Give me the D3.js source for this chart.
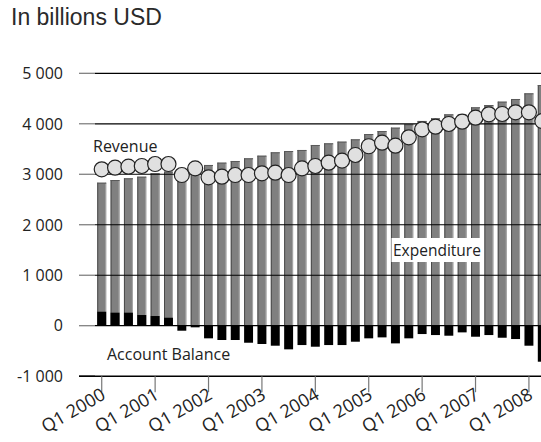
<!DOCTYPE html>
<html>
<head>
<meta charset="utf-8">
<script src="https://cdn.jsdelivr.net/npm/d3@7"></script>
<style>
  html, body { margin: 0; padding: 0; background: #fff; }
  svg { display: block; }
</style>
</head>
<body>
<script>
const quarters = [
  "Q1 2000","Q2 2000","Q3 2000","Q4 2000",
  "Q1 2001","Q2 2001","Q3 2001","Q4 2001",
  "Q1 2002","Q2 2002","Q3 2002","Q4 2002",
  "Q1 2003","Q2 2003","Q3 2003","Q4 2003",
  "Q1 2004","Q2 2004","Q3 2004","Q4 2004",
  "Q1 2005","Q2 2005","Q3 2005","Q4 2005",
  "Q1 2006","Q2 2006","Q3 2006","Q4 2006",
  "Q1 2007","Q2 2007","Q3 2007","Q4 2007",
  "Q1 2008","Q2 2008"
];
const expenditure = [
  2833, 2886, 2920, 2952, 3019, 3051, 3084, 3149,
  3184, 3230, 3263, 3316, 3368, 3435, 3460, 3481,
  3580, 3613, 3646, 3692, 3797, 3857, 3923, 3989,
  4056, 4108, 4187, 4180, 4326, 4372, 4438, 4491,
  4603, 4768
];
const revenue = [
  3098, 3130, 3150, 3164, 3203, 3203, 2985, 3117,
  2940, 2952, 2985, 2985, 3019, 3032, 2985, 3117,
  3164, 3230, 3270, 3382, 3555, 3626, 3566, 3732,
  3891, 3942, 3996, 4041, 4121, 4187, 4194, 4227,
  4227, 4055
];
const balance = [
  277, 258, 258, 212, 192, 158, -99, -32,
  -250, -283, -283, -337, -362, -396, -468, -383,
  -416, -383, -383, -317, -250, -231, -350, -250,
  -165, -185, -198, -132, -218, -185, -238, -264,
  -396, -713
];
const yTicks = [-1000, 0, 1000, 2000, 3000, 4000, 5000];
const xTickLabels = ["Q1 2000","Q1 2001","Q1 2002","Q1 2003","Q1 2004","Q1 2005","Q1 2006","Q1 2007","Q1 2008"];

const W = 541, H = 442;
const svg = d3.select("body").append("svg").attr("width", W).attr("height", H);

const x = d3.scaleBand().domain(quarters)
  .range([95.05, 95.05 + quarters.length * 13.35])
  .paddingInner(0.33).paddingOuter(0.165);
const y = d3.scaleLinear().domain([-1000, 5000]).range([376.2, 73.3]);

const labelFont = "'Open Sans', 'Noto Sans', sans-serif";
const fmt = v => (v < 0 ? "-" : "") + d3.format(",")(Math.abs(v)).replace(/,/g, " ");

// Title
svg.append("text").attr("x", 11).attr("y", 25)
  .attr("font-family", "'Liberation Sans', Arial, sans-serif")
  .attr("font-size", 23).attr("fill", "#2a2a2a").text("In billions USD");

// Y tick marks and labels
const yg = svg.append("g");
yg.selectAll("line.tk").data(yTicks).join("line")
  .attr("x1", 79).attr("x2", 95)
  .attr("y1", d => y(d)).attr("y2", d => y(d))
  .attr("stroke", d => d === -1000 ? "#000" : "#777").attr("stroke-width", 1.2);
yg.selectAll("text").data(yTicks).join("text")
  .attr("x", 63).attr("y", d => y(d)).attr("dy", "0.36em")
  .attr("text-anchor", "end").attr("font-family", labelFont)
  .attr("font-size", 16).attr("fill", "#222").text(d => fmt(d));

// Expenditure bars
const bars = svg.append("g");
bars.selectAll("rect.exp").data(quarters).join("rect")
  .attr("class", "exp")
  .attr("x", d => x(d)).attr("width", x.bandwidth())
  .attr("y", (d, i) => y(expenditure[i]))
  .attr("height", (d, i) => y(0) - y(expenditure[i]))
  .attr("fill", "#808080");
bars.selectAll("line.le").data(quarters).join("line")
  .attr("class", "le")
  .attr("x1", d => x(d) + 0.5).attr("x2", d => x(d) + 0.5)
  .attr("y1", (d, i) => y(expenditure[i])).attr("y2", y(0))
  .attr("stroke", "#4a4a4a").attr("stroke-width", 1);
bars.selectAll("line.re").data(quarters).join("line")
  .attr("class", "re")
  .attr("x1", d => x(d) + x.bandwidth() - 0.5).attr("x2", d => x(d) + x.bandwidth() - 0.5)
  .attr("y1", (d, i) => y(expenditure[i])).attr("y2", y(0))
  .attr("stroke", "#a8a8a8").attr("stroke-width", 1);
bars.selectAll("line.te").data(quarters).join("line")
  .attr("class", "te")
  .attr("x1", d => x(d)).attr("x2", d => x(d) + x.bandwidth())
  .attr("y1", (d, i) => y(expenditure[i]) + 0.5).attr("y2", (d, i) => y(expenditure[i]) + 0.5)
  .attr("stroke", "#5a5a5a").attr("stroke-width", 1);

// Balance bars
bars.selectAll("rect.bal").data(quarters).join("rect")
  .attr("class", "bal")
  .attr("x", d => x(d)).attr("width", x.bandwidth())
  .attr("y", (d, i) => y(Math.max(0, balance[i])))
  .attr("height", (d, i) => Math.abs(y(balance[i]) - y(0)))
  .attr("fill", "#000");

// Gridlines (drawn over bars)
svg.append("g").selectAll("line").data(yTicks.filter(d => d >= 0)).join("line")
  .attr("x1", 95).attr("x2", W)
  .attr("y1", d => y(d)).attr("y2", d => y(d))
  .attr("stroke", "#000").attr("stroke-width", 1.2);
// X axis line
svg.append("line").attr("x1", 79).attr("x2", W)
  .attr("y1", y(-1000)).attr("y2", y(-1000))
  .attr("stroke", "#000").attr("stroke-width", 1.4);

// X ticks and labels
const xg = svg.append("g");
xg.selectAll("line").data(xTickLabels).join("line")
  .attr("x1", d => x(d) + x.bandwidth() / 2).attr("x2", d => x(d) + x.bandwidth() / 2)
  .attr("y1", y(-1000)).attr("y2", y(-1000) + 16)
  .attr("stroke", "#777").attr("stroke-width", 1.2);
xg.selectAll("text").data(xTickLabels).join("text")
  .attr("transform", d => `translate(${x(d) + x.bandwidth() / 2 + 5},${y(-1000) + 22}) rotate(-30)`)
  .attr("text-anchor", "end").attr("font-family", labelFont)
  .attr("font-size", 18).attr("fill", "#222").text(d => d);

// Revenue circles
svg.append("g").selectAll("circle").data(quarters).join("circle")
  .attr("cx", d => x(d) + x.bandwidth() / 2)
  .attr("cy", (d, i) => y(revenue[i]))
  .attr("r", 7.5)
  .attr("fill", "#e0e0e0").attr("stroke", "#222").attr("stroke-width", 1.2);

// Series labels
svg.append("text").attr("x", 93).attr("y", 152)
  .attr("font-family", labelFont).attr("font-size", 16).attr("fill", "#222").text("Revenue");
svg.append("rect").attr("x", 391.5).attr("y", 238).attr("width", 90).attr("height", 24).attr("fill", "#fff");
svg.append("text").attr("x", 393).attr("y", 256)
  .attr("font-family", labelFont).attr("font-size", 15.5).attr("fill", "#222").text("Expenditure");
svg.append("text").attr("x", 107).attr("y", 360)
  .attr("font-family", labelFont).attr("font-size", 16).attr("fill", "#222").text("Account Balance");
</script>
</body>
</html>
